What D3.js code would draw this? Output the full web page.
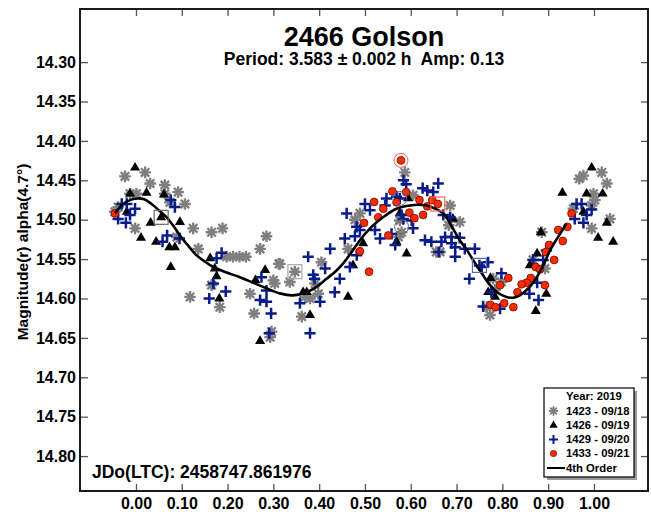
<!DOCTYPE html>
<html>
<head>
<meta charset="utf-8">
<script src="https://cdn.jsdelivr.net/npm/d3@7"></script>
<style>
  html, body { margin: 0; padding: 0; background: #fff; }
  svg { display: block; font-family: "Liberation Sans", Arial, sans-serif; font-weight: bold; }
  text { white-space: pre; }
</style>
</head>
<body>
<svg id="chart" width="651" height="512"></svg>
<script>
// Lightcurve of asteroid 2466 Golson, phased to P = 3.583 h
const titleText = "2466 Golson";
const subtitleText = "Period: 3.583 \u00b1 0.002 h  Amp: 0.13";
const epochText = "JDo(LTC): 2458747.861976";
const yLabelText = "Magnitude(r) alpha(4.7\u00b0)";

const xTicks = [0.0, 0.1, 0.2, 0.3, 0.4, 0.5, 0.6, 0.7, 0.8, 0.9, 1.0];
const yTicks = [14.30, 14.35, 14.40, 14.45, 14.50, 14.55, 14.60, 14.65, 14.70, 14.75, 14.80];

const legendTitle = "Year: 2019";
const sessionNames = ["1423 - 09/18", "1426 - 09/19", "1429 - 09/20", "1433 - 09/21"];
const fitName = "4th Order";

// session 1423 (phase, magnitude)
const s1423 = [
  [-0.024,14.445],[0.020,14.440],[0.031,14.454],[0.063,14.456],[0.063,14.467],[0.092,14.465],
  [-0.013,14.467],[0.001,14.467],[-0.039,14.484],[0.107,14.480],[0.074,14.478],[-0.046,14.490],
  [-0.002,14.511],[0.125,14.511],[0.089,14.522],[0.165,14.516],[0.189,14.511],[0.285,14.521],
  [0.136,14.537],[0.271,14.537],[0.198,14.547],[0.212,14.547],[0.226,14.547],[0.240,14.547],
  [0.118,14.598],[0.183,14.611],[0.165,14.583],[0.249,14.594],[0.300,14.577],[0.258,14.619],
  [0.293,14.649],[0.312,14.556],[0.296,14.642],
  [0.587,14.440],[0.605,14.469],[0.686,14.482],[0.489,14.492],[0.478,14.500],[0.576,14.501],
  [0.580,14.516],[0.573,14.522],[0.314,14.556],[0.347,14.566],[0.405,14.554],[0.463,14.537],
  [0.391,14.581],[0.303,14.581],[0.336,14.579],[0.398,14.594],[0.369,14.598],[0.380,14.600],
  [0.362,14.623],[0.656,14.541],[0.683,14.507],
  [0.977,14.444],[0.968,14.448],[1.017,14.440],[1.028,14.454],[0.999,14.467],[1.002,14.475],
  [0.995,14.482],[0.955,14.486],[1.035,14.499],[0.995,14.511],[0.707,14.503],[0.664,14.541],
  [0.886,14.516],[0.867,14.551],[0.893,14.562],[0.780,14.575],[0.798,14.579],[0.773,14.621],
  [0.766,14.611],[0.784,14.589]
];

// session 1426
const s1426 = [
  [-0.002,14.434],[-0.013,14.467],[0.023,14.466],[0.061,14.468],[0.055,14.497],[0.032,14.504],
  [0.096,14.503],[0.011,14.523],[0.044,14.528],[0.073,14.535],[0.085,14.535],[0.076,14.560],
  [0.162,14.549],[0.172,14.562],[0.176,14.572],[0.182,14.600],[0.282,14.564],[0.261,14.577],
  [0.271,14.654],[-0.020,14.490],
  [0.569,14.528],[0.591,14.543],[0.496,14.530],[0.474,14.558],[0.463,14.598],[0.380,14.621],
  [0.365,14.592],[0.373,14.592],[0.692,14.499],[0.576,14.492],[0.594,14.473],
  [0.995,14.434],[0.931,14.466],[0.984,14.467],[1.019,14.467],[0.977,14.490],[1.028,14.504],
  [1.009,14.523],[1.042,14.528],[0.884,14.516],[0.876,14.543],[0.860,14.558],[0.774,14.574],
  [0.769,14.592],[0.784,14.598],[0.896,14.594],[0.873,14.616]
];

// session 1429
const s1429 = [
  [-0.031,14.480],[-0.020,14.480],[-0.002,14.486],[-0.013,14.494],[-0.039,14.499],[-0.022,14.504],
  [0.076,14.475],[0.085,14.484],[0.068,14.520],[0.058,14.528],[0.095,14.524],[0.187,14.542],
  [0.176,14.549],[0.169,14.581],[0.196,14.591],[0.160,14.600],[0.274,14.573],[0.285,14.590],
  [0.271,14.602],[0.285,14.604],[0.295,14.619],[0.291,14.644],
  [0.584,14.450],[0.590,14.455],[0.626,14.460],[0.636,14.463],[0.660,14.454],[0.649,14.465],
  [0.547,14.473],[0.544,14.482],[0.569,14.471],[0.576,14.473],[0.500,14.480],[0.511,14.488],
  [0.460,14.492],[0.580,14.494],[0.584,14.499],[0.602,14.501],[0.605,14.511],[0.482,14.509],
  [0.489,14.513],[0.522,14.513],[0.533,14.524],[0.558,14.518],[0.456,14.524],[0.478,14.521],
  [0.566,14.532],[0.424,14.537],[0.482,14.545],[0.376,14.547],[0.467,14.560],[0.413,14.562],
  [0.387,14.570],[0.390,14.575],[0.445,14.575],[0.434,14.592],[0.402,14.604],[0.358,14.606],
  [0.380,14.644],[0.631,14.526],[0.645,14.528],[0.667,14.528],[0.661,14.541],[0.697,14.547],
  [0.675,14.522],[0.689,14.522],[0.671,14.494],[0.686,14.497],[0.689,14.530],[0.697,14.535],
  [0.707,14.523],[0.718,14.537],[0.740,14.537],[0.755,14.560],[0.769,14.554],[0.728,14.575],
  [0.798,14.568],[0.776,14.592],[0.758,14.610],[0.795,14.613],[0.859,14.594],[0.876,14.580],
  [0.879,14.602],[0.896,14.539],[0.889,14.551],[0.867,14.551],[0.750,14.558],
  [0.962,14.480],[0.973,14.480],[0.984,14.494],[0.995,14.487],[0.958,14.499],[0.977,14.504]
];

// session 1433
const s1433 = [
  [-0.046,14.492],[0.5786,14.4247],[0.520,14.4775],[0.540,14.486],[0.560,14.464],[0.590,14.465],
  [0.569,14.478],[0.529,14.497],[0.498,14.504],[0.551,14.520],[0.489,14.540],[0.509,14.566],
  [0.597,14.491],[0.608,14.498],[0.619,14.475],[0.627,14.494],[0.636,14.483],[0.647,14.475],
  [0.659,14.480],[0.951,14.492],[0.942,14.509],[0.922,14.513],[0.932,14.527],[0.902,14.532],
  [0.895,14.541],[0.913,14.551],[0.873,14.560],[0.882,14.563],[0.813,14.574],[0.862,14.574],
  [0.853,14.580],[0.842,14.582],[0.795,14.583],[0.893,14.583],[0.833,14.592],[0.804,14.606],
  [0.774,14.608],[0.785,14.611],[0.824,14.611]
];

// 4th-order Fourier fit, sampled along one cycle
const fitCurve = [
  [-0.046,14.492],[-0.028,14.480],[-0.010,14.4745],[0.004,14.473],[0.018,14.474],[0.034,14.480],
  [0.050,14.488],[0.067,14.497],[0.082,14.508],[0.096,14.520],[0.114,14.533],[0.132,14.545],
  [0.150,14.553],[0.169,14.560],[0.198,14.567],[0.227,14.573],[0.256,14.580],[0.285,14.587],
  [0.314,14.5935],[0.343,14.596],[0.373,14.592],[0.395,14.585],[0.416,14.575],[0.435,14.566],
  [0.453,14.555],[0.471,14.541],[0.489,14.526],[0.508,14.513],[0.526,14.503],[0.544,14.495],
  [0.562,14.488],[0.580,14.484],[0.598,14.482],[0.617,14.481],[0.635,14.482],[0.653,14.486],
  [0.671,14.492],[0.689,14.508],[0.707,14.526],[0.722,14.538],[0.736,14.551],[0.755,14.568],
  [0.773,14.583],[0.791,14.593],[0.809,14.598],[0.824,14.599],[0.838,14.596],[0.857,14.587],
  [0.875,14.573],[0.890,14.557],[0.904,14.539],[0.915,14.528],[0.926,14.518],[0.940,14.505]
];

// highlighted reference points: [series, phase, magnitude, kind]
const markedPoints = [
  [1, 0.055, 14.497, "square"], [0, 0.347, 14.566, "square"],
  [2, 0.750, 14.558, "square"], [3, 0.659, 14.480, "square"],
  [3, 0.5786, 14.4247, "ring"], [2, 0.576, 14.473, "ring"], [1, 0.580, 14.509, "ring"]
];

const svg = d3.select("#chart");
const plot = { left: 80, right: 648, top: 9, bottom: 491 };

const x = d3.scaleLinear().domain([-0.1222, 1.1180]).range([plot.left, plot.right]);
const y = d3.scaleLinear().domain([14.2326, 14.8443]).range([plot.top, plot.bottom]);

const seriesColor = ["#808080", "#000000", "#0a1c8a", "#ff2a00"];
const markColor = ["#a8a8a8", "#666666", "#5a68b0", "#ff6a4a"];

// marker painters
const asteriskPath = (r) => {
  const d = r * 0.72;
  return `M${-r},0H${r}M0,${-r}V${r}M${-d},${-d}L${d},${d}M${-d},${d}L${d},${-d}`;
};
const plusPath = (r) => `M${-r},0H${r}M0,${-r}V${r}`;
const triPath = d3.symbol(d3.symbolTriangle, 44)();
const triPathSmall = d3.symbol(d3.symbolTriangle, 30)();

function drawMarker(g, kind, scale) {
  const s = scale || 1;
  if (kind === 0) {
    g.append("path").attr("d", asteriskPath(5.8 * s))
      .attr("stroke", seriesColor[0]).attr("stroke-width", 2.4 * s).attr("fill", "none");
  } else if (kind === 1) {
    g.append("path").attr("d", s < 1 ? triPathSmall : triPath).attr("fill", seriesColor[1]);
  } else if (kind === 2) {
    g.append("path").attr("d", plusPath(5.6 * s))
      .attr("stroke", seriesColor[2]).attr("stroke-width", 2.5 * s).attr("fill", "none");
  } else {
    g.append("circle").attr("r", 3.9 * s).attr("fill", seriesColor[3])
      .attr("stroke", "#6a0a00").attr("stroke-width", 0.8);
  }
}

// frame ticks (inside the plot)
const tickColor = "#555";
const xAxisB = d3.axisBottom(x).tickValues(xTicks).tickSize(-7).tickPadding(7).tickFormat(d3.format(".2f"));
const xAxisT = d3.axisTop(x).tickValues(xTicks).tickSize(-7).tickFormat("");
const yAxisL = d3.axisLeft(y).tickValues(yTicks).tickSize(-8).tickPadding(4).tickFormat(d3.format(".2f"));
const yAxisR = d3.axisRight(y).tickValues(yTicks).tickSize(-7).tickFormat("");

function styleAxis(g) {
  g.select(".domain").remove();
  g.selectAll(".tick line").attr("stroke", tickColor).attr("stroke-width", 1.3);
  g.selectAll(".tick text").attr("fill", "#000")
    .style("font-size", "16px").style("font-weight", "bold")
    .style("font-family", '"Liberation Sans", Arial, sans-serif');
}

svg.append("g").attr("transform", `translate(0,${plot.bottom})`).call(xAxisB).call(styleAxis);
svg.append("g").attr("transform", `translate(0,${plot.top})`).call(xAxisT).call(styleAxis);
svg.append("g").attr("transform", `translate(${plot.left},0)`).call(yAxisL).call(styleAxis);
svg.append("g").attr("transform", `translate(${plot.right},0)`).call(yAxisR).call(styleAxis);

// data points
const series = [s1423, s1426, s1429, s1433];
series.forEach((pts, k) => {
  const layer = svg.append("g");
  pts.forEach(p => {
    const g = layer.append("g").attr("transform", `translate(${x(p[0])},${y(p[1])})`);
    drawMarker(g, k, 1);
  });
});

// fitted curve
svg.append("path")
  .datum(fitCurve)
  .attr("d", d3.line().x(d => x(d[0])).y(d => y(d[1])).curve(d3.curveCatmullRom.alpha(0.5)))
  .attr("fill", "none").attr("stroke", "#000").attr("stroke-width", 2.6);

// highlighted points
markedPoints.forEach(m => {
  const cx = x(m[1]), cy = y(m[2]);
  if (m[3] === "square") {
    svg.append("rect").attr("x", cx - 7).attr("y", cy - 7).attr("width", 14).attr("height", 14)
      .attr("fill", "none").attr("stroke", markColor[m[0]]).attr("stroke-width", 1.2);
  } else {
    svg.append("circle").attr("cx", cx).attr("cy", cy).attr("r", 7)
      .attr("fill", "none").attr("stroke", markColor[m[0]]).attr("stroke-width", 1);
  }
});

// frame
svg.append("rect")
  .attr("x", plot.left).attr("y", plot.top)
  .attr("width", plot.right - plot.left).attr("height", plot.bottom - plot.top)
  .attr("fill", "none").attr("stroke", "#1a1a1a").attr("stroke-width", 2);

// titles
svg.append("text").attr("x", (plot.left + plot.right) / 2).attr("y", 46)
  .attr("text-anchor", "middle").style("font-size", "27px").text(titleText);
svg.append("text").attr("x", (plot.left + plot.right) / 2).attr("y", 65)
  .attr("text-anchor", "middle").style("font-size", "17.5px").text(subtitleText);
svg.append("text").attr("x", 92).attr("y", 478)
  .style("font-size", "17.5px").text(epochText);
svg.append("text")
  .attr("transform", `translate(28,252) rotate(-90)`)
  .attr("text-anchor", "middle").style("font-size", "15.5px").text(yLabelText);

// legend
const lg = { x: 544, y: 388, w: 90, h: 89 };
svg.append("rect").attr("x", lg.x + 3).attr("y", lg.y + 3).attr("width", lg.w).attr("height", lg.h)
  .attr("fill", "#9a9a9a");
svg.append("rect").attr("x", lg.x).attr("y", lg.y).attr("width", lg.w).attr("height", lg.h)
  .attr("fill", "#fff").attr("stroke", "#000").attr("stroke-width", 1.2);
const rowY = [396, 411, 425.3, 439.5, 453.5, 468];
const legendFont = "11.3px";
svg.append("text").attr("x", 566).attr("y", rowY[0]).attr("dy", "0.35em")
  .style("font-size", legendFont).text(legendTitle);
sessionNames.forEach((name, k) => {
  const g = svg.append("g").attr("transform", `translate(553.5,${rowY[k + 1]})`);
  drawMarker(g, k, 0.8);
  svg.append("text").attr("x", 566).attr("y", rowY[k + 1]).attr("dy", "0.35em")
    .style("font-size", legendFont).text(name);
});
svg.append("line").attr("x1", 547).attr("x2", 565).attr("y1", rowY[5]).attr("y2", rowY[5])
  .attr("stroke", "#000").attr("stroke-width", 2);
svg.append("text").attr("x", 566).attr("y", rowY[5]).attr("dy", "0.35em")
  .style("font-size", legendFont).text(fitName);
</script>
</body>
</html>
